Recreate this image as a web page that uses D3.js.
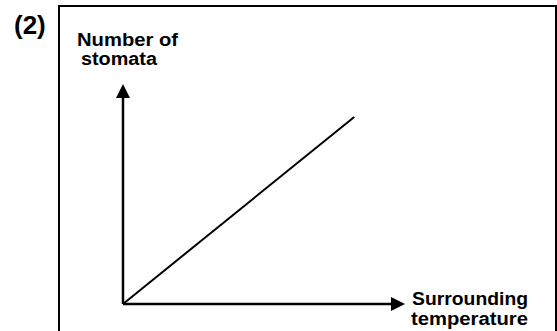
<!DOCTYPE html>
<html>
<head>
<meta charset="utf-8">
<script src="https://cdn.jsdelivr.net/npm/d3@7"></script>
<style>
  body { margin: 0; background: #fff; }
  text { font-family: "Liberation Sans", Arial, sans-serif; fill: #000; }
</style>
</head>
<body>
<div id="vis"></div>
<script>
// data: one straight line from the origin
var temperature = [0, 8.2];
var stomata = [0, 8.5];
var yLabel = ["Number of", "stomata"];
var xLabel = ["Surrounding", "temperature"];
var panelLabel = "(2)";

var w = 557;
var h = 331;

var svg = d3.select("#vis")
            .append("svg")
            .attr("width", w)
            .attr("height", h)
            .style("background-color", "#fff");

// frame around the graph (bottom runs off the page)
svg.append("rect")
   .attr("x", 59)
   .attr("y", 6)
   .attr("width", 497)
   .attr("height", 340)
   .attr("fill", "none")
   .attr("stroke", "#000")
   .attr("stroke-width", 2);

svg.append("text")
   .attr("x", 14)
   .attr("y", 34)
   .style("font-size", "26px")
   .style("font-weight", "bold")
   .text(panelLabel);

const xScale = d3.scaleLinear().domain([0, 10]).range([123, 405]);
const yScale = d3.scaleLinear().domain([0, 10]).range([304, 84]);

var x0 = xScale(0), y0 = yScale(0);
var xEnd = xScale.range()[1], yEnd = yScale.range()[1];
var head = 14;

// axes with arrow heads
svg.append("line")
   .attr("x1", x0).attr("y1", y0)
   .attr("x2", x0).attr("y2", yEnd + head)
   .attr("stroke", "#000").attr("stroke-width", 2.5);
svg.append("path")
   .attr("d", `M${x0},${yEnd} L${x0 - 7},${yEnd + head} L${x0 + 7},${yEnd + head} Z`)
   .attr("fill", "#000");

svg.append("line")
   .attr("x1", x0).attr("y1", y0)
   .attr("x2", xEnd - head).attr("y2", y0)
   .attr("stroke", "#000").attr("stroke-width", 2.5);
svg.append("path")
   .attr("d", `M${xEnd},${y0} L${xEnd - head},${y0 - 7} L${xEnd - head},${y0 + 7} Z`)
   .attr("fill", "#000");

// the relationship line
const line = d3.line()
               .x((d, i) => xScale(temperature[i]))
               .y(d => yScale(d));

svg.append("path")
   .datum(stomata)
   .attr("d", line)
   .attr("fill", "none")
   .attr("stroke", "#000")
   .attr("stroke-width", 2);

// axis titles
svg.append("text").attr("x", 77).attr("y", 46)
   .style("font-size", "18px").style("font-weight", "bold")
   .attr("textLength", 101).attr("lengthAdjust", "spacingAndGlyphs")
   .text(yLabel[0]);
svg.append("text").attr("x", 81).attr("y", 65)
   .style("font-size", "18px").style("font-weight", "bold")
   .attr("textLength", 76).attr("lengthAdjust", "spacingAndGlyphs")
   .text(yLabel[1]);

svg.append("text").attr("x", 412).attr("y", 305)
   .style("font-size", "18px").style("font-weight", "bold")
   .attr("textLength", 116).attr("lengthAdjust", "spacingAndGlyphs")
   .text(xLabel[0]);
svg.append("text").attr("x", 411).attr("y", 325)
   .style("font-size", "18px").style("font-weight", "bold")
   .attr("textLength", 117).attr("lengthAdjust", "spacingAndGlyphs")
   .text(xLabel[1]);
</script>
</body>
</html>
